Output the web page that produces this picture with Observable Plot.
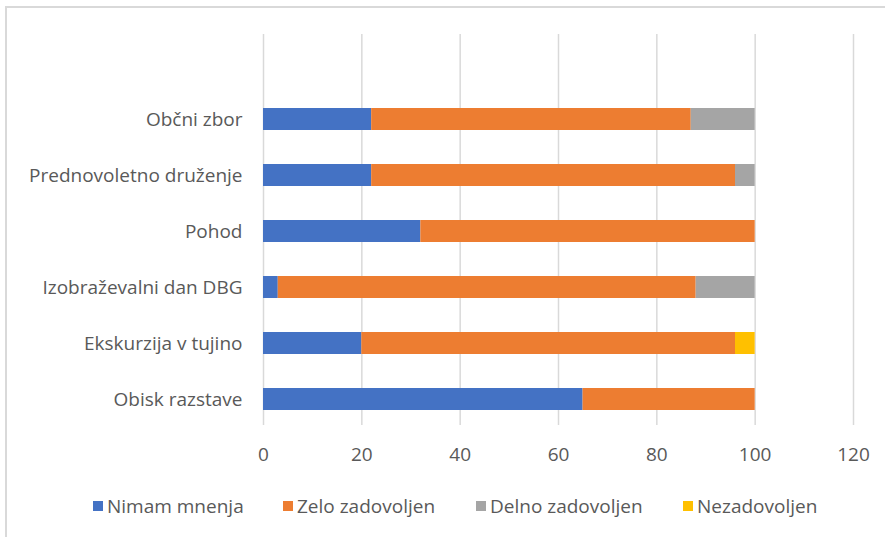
<!DOCTYPE html>
<html>
<head>
<meta charset="utf-8">
<script src="https://cdn.jsdelivr.net/npm/d3@7"></script>
<script src="https://cdn.jsdelivr.net/npm/@observablehq/plot@0.6"></script>
<style>
  html, body { margin: 0; padding: 0; background: #fff; }
  #wrap { position: relative; width: 885px; height: 537px; overflow: hidden; font-family: "Open Sans", sans-serif; }
  #frame { position: absolute; left: 5px; top: 6px; width: 900px; height: 560px; border: 2px solid #d9d9d9; box-sizing: border-box; }
  #chart { position: absolute; left: 0; top: 0; }
  #legend { position: absolute; top: 493px; left: 0; width: 885px; color: #595959; font-size: 19px; }
  .item { position: absolute; display: flex; align-items: center; white-space: nowrap; line-height: 26px; }
  .sw { width: 10px; height: 10px; margin-right: 4px; display: inline-block; }
</style>
</head>
<body>
<div id="wrap">
  <div id="frame"></div>
  <div id="chart"></div>
  <div id="legend"></div>
</div>
<script>
const categories = ["Občni zbor", "Prednovoletno druženje", "Pohod", "Izobraževalni dan DBG", "Ekskurzija v tujino", "Obisk razstave"];
const seriesNames = ["Nimam mnenja", "Zelo zadovoljen", "Delno zadovoljen", "Nezadovoljen"];
const nimamMnenja     = [22, 22, 32, 3, 20, 65];
const zeloZadovoljen  = [65, 74, 68, 85, 76, 35];
const delnoZadovoljen = [13, 4, 0, 12, 0, 0];
const nezadovoljen    = [0, 0, 0, 0, 4, 0];
const xTicks = [0, 20, 40, 60, 80, 100, 120];
const colors = ["#4472C4", "#ED7D31", "#A5A5A5", "#FFC000"];

const seriesValues = [nimamMnenja, zeloZadovoljen, delnoZadovoljen, nezadovoljen];
const data = [];
categories.forEach((c, i) => {
  seriesNames.forEach((s, j) => {
    data.push({cat: c, series: s, value: seriesValues[j][i]});
  });
});

const plot = Plot.plot({
  width: 885,
  height: 480,
  marginLeft: 263,
  marginRight: 32,
  marginTop: 34,
  marginBottom: 55,
  style: {fontFamily: "'Open Sans', sans-serif", color: "#595959", background: "transparent"},
  x: {domain: [0, 120], axis: null, label: null},
  y: {type: "band", domain: categories, range: [91, 427], padding: 0, axis: null, label: null},
  color: {domain: seriesNames, range: colors},
  marks: [
    Plot.gridX(xTicks, {stroke: "#d9d9d9", strokeOpacity: 1, strokeWidth: 1.5}),
    Plot.barX(data, Plot.stackX({x: "value", y: "cat", fill: "series", order: seriesNames, insetTop: 17, insetBottom: 17})),
    Plot.axisX(xTicks, {tickSize: 0, tickPadding: 22, fontSize: 19, fill: "#595959", label: null, tickFormat: d => String(d)}),
    Plot.axisY(categories, {tickSize: 0, tickPadding: 21, fontSize: 19, fill: "#595959", label: null})
  ]
});
document.getElementById("chart").appendChild(plot);

const legendPos = [93, 283, 476, 683];
const legend = document.getElementById("legend");
seriesNames.forEach((s, i) => {
  const it = document.createElement("div");
  it.className = "item";
  it.style.left = legendPos[i] + "px";
  const sw = document.createElement("span");
  sw.className = "sw";
  sw.style.background = colors[i];
  it.appendChild(sw);
  const t = document.createElement("span");
  t.textContent = s;
  it.appendChild(t);
  legend.appendChild(it);
});
</script>
</body>
</html>
